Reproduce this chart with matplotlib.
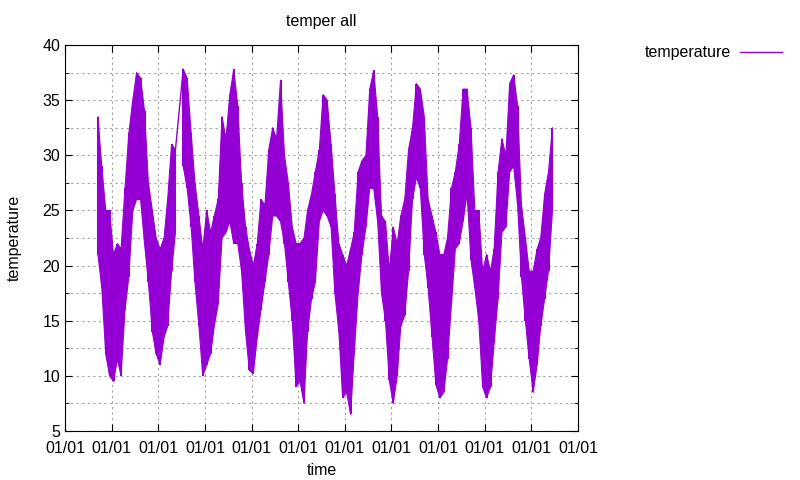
import numpy as np
import pandas as pd
import matplotlib
matplotlib.use("Agg")
import matplotlib.pyplot as plt
import matplotlib.dates as mdates
from matplotlib.lines import Line2D

# monthly envelope of the temperature trace (deg)
# first month is 2008-09, last is 2018-06; 2010-06 has no data
temp_hi = [
    33.5, 29, 25, 25,
    21, 22, 21.5, 27, 32, 35, 37.5, 37, 34, 27.5, 25, 22.5,
    21.5, 22.5, 26, 31, 30.5, np.nan, 37.8, 37, 32, 27.5, 24.5, 21.5,
    25, 23, 24.5, 26, 33.5, 31.5, 35.5, 37.8, 34.5, 27.5, 23.5, 21.5,
    20, 22, 26, 25.5, 30.5, 32.5, 31.5, 36.8, 30, 27.5, 23.5, 22,
    22, 22.5, 25, 26.5, 28.5, 30.5, 35.5, 35, 31, 26.5, 22, 21,
    20, 21.5, 23, 28.5, 29.5, 30, 36, 37.7, 33.5, 24.5, 24, 19.5,
    23.5, 22, 24.5, 26, 30.5, 32.5, 36.5, 36, 33.5, 26, 24.5, 23,
    21, 21, 22.5, 27, 28.5, 31, 36, 36, 32.5, 25, 25, 19.5,
    21, 19.5, 21.5, 28.5, 31.5, 30, 36.5, 37.3, 34.5, 25.5, 22.5, 19.5,
    19.5, 21.5, 22.5, 26.5, 28.5, 32.5,
]
temp_lo = [
    21, 18, 12, 10,
    9.5, 11.5, 10, 16, 19, 25, 26, 26, 22, 18.5, 14, 12,
    11, 13.5, 14.5, 19.5, 23, np.nan, 29, 27, 23.5, 18.5, 14.5, 10,
    11, 12, 14.5, 16.5, 22.5, 23, 24, 22, 22, 19.5, 14, 10.5,
    10.2, 13.5, 16, 18.5, 21, 24.5, 24.5, 24, 22, 18.5, 15, 9,
    9.5, 7.5, 14, 17, 18.5, 24, 25, 24.5, 23.5, 17.5, 14, 8,
    8.5, 6.5, 12, 17.5, 21, 23.5, 27, 27, 24, 17.5, 15, 9.6,
    7.5, 10, 14.5, 15.5, 19.5, 26, 28, 27, 21, 18, 13.5, 9.2,
    8, 8.5, 11.5, 16.5, 21.5, 22, 24, 26.5, 20.5, 18, 15, 9,
    8, 9, 13, 17, 23, 23.5, 28.5, 29, 25.5, 19, 15, 11.5,
    8.5, 11, 14.5, 17, 19.5, 25,
]

dates = pd.date_range("2008-09-01", periods=len(temp_hi), freq="MS") + pd.Timedelta(days=14)
hi = np.array(temp_hi, dtype=float)
lo = np.array(temp_lo, dtype=float)

purple = "#9400d3"
plt.rcParams["font.family"] = ["Liberation Sans", "DejaVu Sans"]
plt.rcParams["font.size"] = 11.5

fig = plt.figure(figsize=(8, 4.8), dpi=100)
ax = fig.add_axes([65 / 800, 1 - 431 / 480, 513 / 800, 386 / 480])

ax.fill_between(dates, lo, hi, color=purple, lw=0.8, edgecolor=purple)
ax.vlines(dates, lo, hi, color=purple, lw=1.5)
# the gap month is bridged by a straight line
for g in np.where(np.isnan(hi))[0]:
    ax.plot([dates[g - 1], dates[g + 1]], [hi[g - 1], hi[g + 1]], color=purple, lw=1)

ax.set_xlim(pd.Timestamp("2008-01-01"), pd.Timestamp("2019-01-01"))
ax.set_ylim(5, 40)
ax.xaxis.set_major_locator(mdates.YearLocator())
ax.xaxis.set_major_formatter(mdates.DateFormatter("%m/%d"))
ax.set_yticks(np.arange(5, 41, 5))
ax.set_yticks(np.arange(7.5, 40, 5), minor=True)
ax.tick_params(which="both", direction="in", top=True, right=True, length=5)
ax.tick_params(which="minor", length=3)
ax.tick_params(axis="x", pad=7)
ax.grid(True, which="both", color="#a0a0a0", linestyle=(0, (2, 3)), lw=0.8)
ax.set_axisbelow(True)

ax.set_title("temper all", fontsize=11.5, pad=14)
ax.set_xlabel("time", labelpad=5)
ax.set_ylabel("temperature", labelpad=15)

handle = Line2D([], [], color=purple, lw=1)
fig.legend([handle], ["temperature"], loc="upper right", bbox_to_anchor=(796 / 800, 1 - 31 / 480),
           frameon=False, markerfirst=False, handlelength=2.6, handletextpad=0.6)

fig.savefig("out.png", dpi=100)
